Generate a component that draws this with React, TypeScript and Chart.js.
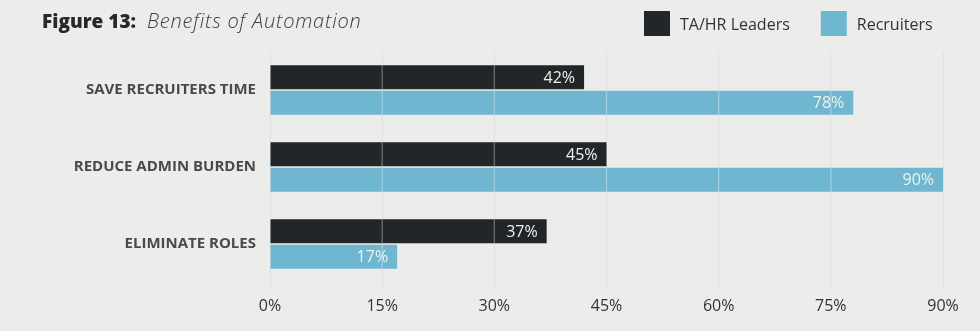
import React, { useEffect, useRef } from "react";
import { Chart, registerables } from "chart.js";

Chart.register(...registerables);

const categories = ["SAVE RECRUITERS TIME", "REDUCE ADMIN BURDEN", "ELIMINATE ROLES"];
const leadersValues = [42, 45, 37];
const recruitersValues = [78, 90, 17];
const seriesNames = ["TA/HR Leaders", "Recruiters"];
const seriesColors = ["#212629", "#6fb7d0"];
const xTickValues = [0, 15, 30, 45, 60, 75, 90];
const titleBold = "Figure 13:";
const titleItalic = "Benefits of Automation";

const FONT = "'Open Sans', 'DejaVu Sans', sans-serif";

const decorPlugin = {
  id: "decor",
  afterDatasetsDraw(chart: any) {
    // light grid lines drawn across the bars
    const ctx = chart.ctx as CanvasRenderingContext2D;
    const xs = chart.scales.x;
    ctx.save();
    ctx.strokeStyle = "rgba(255,255,255,0.33)";
    ctx.lineWidth = 1.3;
    chart.data.datasets.forEach((_ds: any, i: number) => {
      const meta = chart.getDatasetMeta(i);
      meta.data.forEach((bar: any) => {
        const { x, y, base, height } = bar.getProps(["x", "y", "base", "height"], true);
        xTickValues.forEach((v) => {
          const px = xs.getPixelForValue(v);
          if (px > base + 1 && px < x - 1) {
            ctx.beginPath();
            ctx.moveTo(px, y - height / 2);
            ctx.lineTo(px, y + height / 2);
            ctx.stroke();
          }
        });
      });
    });
    ctx.restore();
  },
  afterDraw(chart: any) {
    const ctx = chart.ctx as CanvasRenderingContext2D;
    ctx.save();

    // Title
    ctx.textAlign = "left";
    ctx.textBaseline = "alphabetic";
    ctx.fillStyle = "#25292b";
    ctx.font = `800 19px ${FONT}`;
    ctx.fillText(titleBold, 42, 28);
    const bw = ctx.measureText(titleBold).width;
    ctx.font = `italic 300 20px ${FONT}`;
    ctx.fillStyle = "#3a3e40";
    (ctx as any).letterSpacing = "0.8px";
    ctx.fillText(titleItalic, 42 + bw + 11, 28);
    (ctx as any).letterSpacing = "0px";

    // Legend
    ctx.font = `16px ${FONT}`;
    ctx.textBaseline = "middle";
    let lx = 644;
    seriesNames.forEach((name, i) => {
      ctx.fillStyle = seriesColors[i];
      ctx.fillRect(lx, 11, 26, 25);
      ctx.fillStyle = "#333333";
      ctx.fillText(name, lx + 36, 25);
      lx += 36 + ctx.measureText(name).width + 31;
    });

    // Value labels
    ctx.font = `16px ${FONT}`;
    ctx.textAlign = "right";
    ctx.textBaseline = "middle";
    ctx.fillStyle = "#f0f0ee";
    chart.data.datasets.forEach((ds: any, i: number) => {
      const meta = chart.getDatasetMeta(i);
      meta.data.forEach((bar: any, j: number) => {
        ctx.fillText(ds.data[j] + "%", bar.x - 9, bar.y + 1);
      });
    });

    ctx.restore();
  },
};

export default function App() {
  const ref = useRef<HTMLCanvasElement | null>(null);

  useEffect(() => {
    if (!ref.current) return;
    const chart = new Chart(ref.current, {
      type: "bar",
      data: {
        labels: categories,
        datasets: [
          {
            label: seriesNames[0],
            data: leadersValues,
            backgroundColor: seriesColors[0],
            categoryPercentage: 0.66,
            barPercentage: 0.95,
          },
          {
            label: seriesNames[1],
            data: recruitersValues,
            backgroundColor: seriesColors[1],
            categoryPercentage: 0.66,
            barPercentage: 0.95,
          },
        ],
      },
      options: {
        indexAxis: "y",
        animation: false,
        responsive: true,
        maintainAspectRatio: false,
        layout: { padding: { top: 51.5, right: 37, left: 0, bottom: 0 } },
        plugins: {
          legend: { display: false },
          title: { display: false },
          tooltip: { enabled: false },
        },
        scales: {
          x: {
            min: 0,
            max: 90,
            afterBuildTicks: (scale: any) => {
              scale.ticks = xTickValues.map((v) => ({ value: v }));
            },
            afterFit: (scale: any) => {
              scale.height = 48.5;
            },
            ticks: {
              callback: (v: any) => v + "%",
              color: "#333333",
              font: { family: FONT, size: 16 },
              padding: 6,
              maxRotation: 0,
            },
            grid: {
              color: "#e0e0de",
              tickLength: 8,
              drawTicks: true,
            },
            border: { display: false },
          },
          y: {
            afterFit: (scale: any) => {
              scale.width = 270;
            },
            ticks: {
              color: "#4a4a4a",
              font: { family: FONT, size: 15, weight: "bold" },
              padding: 14,
            },
            grid: { display: false, drawTicks: false, tickLength: 0 },
            border: { display: false },
          },
        },
      },
      plugins: [decorPlugin],
    } as any);
    return () => chart.destroy();
  }, []);

  return (
    <div
      style={{
        position: "fixed",
        left: 0,
        top: 0,
        width: 980,
        height: 331,
        background: "#ececea",
      }}
    >
      <canvas ref={ref} />
    </div>
  );
}
